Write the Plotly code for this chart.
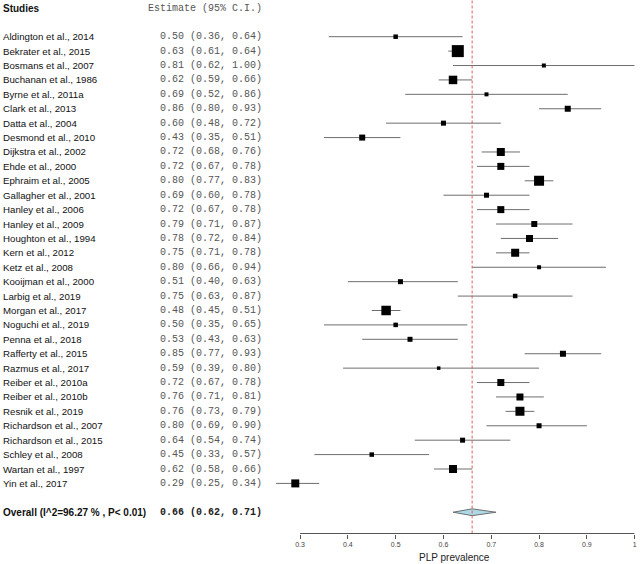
import plotly.graph_objects as go

studies = ["Aldington et al., 2014", "Bekrater et al., 2015", "Bosmans et al., 2007",
           "Buchanan et al., 1986", "Byrne et al., 2011a", "Clark et al., 2013",
           "Datta et al., 2004", "Desmond et al., 2010", "Dijkstra et al., 2002",
           "Ehde et al., 2000", "Ephraim et al., 2005", "Gallagher et al., 2001",
           "Hanley et al., 2006", "Hanley et al., 2009", "Houghton et al., 1994",
           "Kern et al., 2012", "Ketz et al., 2008", "Kooijman et al., 2000",
           "Larbig et al., 2019", "Morgan et al., 2017", "Noguchi et al., 2019",
           "Penna et al., 2018", "Rafferty et al., 2015", "Razmus et al., 2017",
           "Reiber et al., 2010a", "Reiber et al., 2010b", "Resnik et al., 2019",
           "Richardson et al., 2007", "Richardson et al., 2015", "Schley et al., 2008",
           "Wartan et al., 1997", "Yin et al., 2017"]
estimate = [0.50, 0.63, 0.81, 0.62, 0.69, 0.86, 0.60, 0.43, 0.72, 0.72, 0.80, 0.69,
            0.72, 0.79, 0.78, 0.75, 0.80, 0.51, 0.75, 0.48, 0.50, 0.53, 0.85, 0.59,
            0.72, 0.76, 0.76, 0.80, 0.64, 0.45, 0.62, 0.29]
lower = [0.36, 0.61, 0.62, 0.59, 0.52, 0.80, 0.48, 0.35, 0.68, 0.67, 0.77, 0.60,
         0.67, 0.71, 0.72, 0.71, 0.66, 0.40, 0.63, 0.45, 0.35, 0.43, 0.77, 0.39,
         0.67, 0.71, 0.73, 0.69, 0.54, 0.33, 0.58, 0.25]
upper = [0.64, 0.64, 1.00, 0.66, 0.86, 0.93, 0.72, 0.51, 0.76, 0.78, 0.83, 0.78,
         0.78, 0.87, 0.84, 0.78, 0.94, 0.63, 0.87, 0.51, 0.65, 0.63, 0.93, 0.80,
         0.78, 0.81, 0.79, 0.90, 0.74, 0.57, 0.66, 0.34]
# relative study weights
weights = [4.5, 12, 4, 8.5, 4, 6, 5, 6, 8, 7, 10, 5, 7, 6, 7, 8, 4, 5, 4.5, 9.5,
           4.5, 5, 6, 3.5, 7, 7, 9, 5, 5, 4.5, 8, 8]
overall_label = "Overall (I^2=96.27 % , P< 0.01)"
overall = [0.66, 0.62, 0.71]
tick_values = [0.3, 0.4, 0.5, 0.6, 0.7, 0.8, 0.9, 1.0]
tick_labels = ["0.3", "0.4", "0.5", "0.6", "0.7", "0.8", "0.9", "1"]
x_title = "PLP prevalence"

W, H = 640, 564
rows = list(range(len(studies)))
overall_row = len(studies) + 1

# pixel geometry
row0_px, row_step = 36.7, 14.41
axis_px = 533.5
y_top = -row0_px / row_step
y_bot = y_top + axis_px / row_step
px_per_unit = 479.5
x_lo_px, x_hi_px = 301 - 0.1 * px_per_unit, 301 + 0.7 * px_per_unit

fig = go.Figure()

fig.add_trace(go.Scatter(
    x=estimate, y=rows, mode="markers",
    marker=dict(symbol="square", color="#000000", size=weights, opacity=1, line=dict(width=0)),
    error_x=dict(type="data", symmetric=False,
                 array=[u - e for u, e in zip(upper, estimate)],
                 arrayminus=[e - l for e, l in zip(estimate, lower)],
                 color="#6e6e6e", thickness=1, width=0),
    showlegend=False, hoverinfo="skip"))

dh = 3.4 / row_step
fig.add_trace(go.Scatter(
    x=[overall[1], overall[0], overall[2], overall[0], overall[1]],
    y=[overall_row, overall_row - dh, overall_row, overall_row + dh, overall_row],
    mode="lines", fill="toself", fillcolor="#add8e6",
    line=dict(color="#6e6e6e", width=1), showlegend=False, hoverinfo="skip"))

axis_paper = (H - axis_px) / H
shapes = [
    dict(type="line", xref="x", yref="paper", x0=overall[0], x1=overall[0], y0=axis_paper, y1=1,
         line=dict(color="#e06060", width=1, dash="3px,2px")),
    dict(type="line", xref="x", yref="paper", x0=tick_values[0], x1=tick_values[-1],
         y0=axis_paper, y1=axis_paper, line=dict(color="#555555", width=1)),
]

ann = []
name_font = dict(family="Liberation Sans, Arial", size=9.7, color="#111111")
bold_font = dict(family="Liberation Sans, Arial", size=10, color="#111111")
mono_font = dict(family="Liberation Mono, Courier New", size=10, color="#555555")
hdr_y = y_top + 8.5 / row_step
ann.append(dict(x=1 / W, y=hdr_y, xref="paper", yref="y", text="<b>Studies</b>",
                showarrow=False, xanchor="left", yanchor="middle", font=bold_font))
ann.append(dict(x=265 / W, y=hdr_y, xref="paper", yref="y", text="Estimate (95% C.I.)",
                showarrow=False, xanchor="right", yanchor="middle", font=mono_font))
for i, s in enumerate(studies):
    ann.append(dict(x=1 / W, y=i, xref="paper", yref="y", text=s, showarrow=False,
                    xanchor="left", yanchor="middle", font=name_font))
    ann.append(dict(x=265 / W, y=i, xref="paper", yref="y",
                    text=f"{estimate[i]:.2f} ({lower[i]:.2f}, {upper[i]:.2f})",
                    showarrow=False, xanchor="right", yanchor="middle", font=mono_font))
ann.append(dict(x=1 / W, y=overall_row, xref="paper", yref="y", text=f"<b>{overall_label}</b>",
                showarrow=False, xanchor="left", yanchor="middle", font=bold_font))
ann.append(dict(x=265 / W, y=overall_row, xref="paper", yref="y",
                text=f"<b>{overall[0]:.2f} ({overall[1]:.2f}, {overall[2]:.2f})</b>",
                showarrow=False, xanchor="right", yanchor="middle",
                font=dict(family="Liberation Mono, Courier New", size=10, color="#222222")))
ann.append(dict(x=456 / W, y=(H - 557.3) / H, xref="paper", yref="paper", text=x_title,
                showarrow=False, xanchor="center", yanchor="middle",
                font=dict(family="Liberation Sans, Arial", size=10, color="#222222")))

fig.update_layout(
    width=W, height=H, margin=dict(l=0, r=0, t=0, b=0),
    plot_bgcolor="white", paper_bgcolor="white",
    xaxis=dict(domain=[x_lo_px / W, x_hi_px / W], range=[0.2, 1.0], showgrid=False,
               zeroline=False, showline=False, tickvals=tick_values, ticktext=tick_labels,
               ticks="outside", ticklen=4, tickcolor="#555555", tickwidth=1,
               tickfont=dict(family="Liberation Sans, Arial", size=7, color="#444444")),
    yaxis=dict(domain=[axis_paper, 1], range=[y_bot, y_top], visible=False),
    shapes=shapes, annotations=ann,
)

fig.write_html("out.html", config={"displayModeBar": False},
               post_script="document.body.style.margin='0';document.body.style.overflow='hidden';")
